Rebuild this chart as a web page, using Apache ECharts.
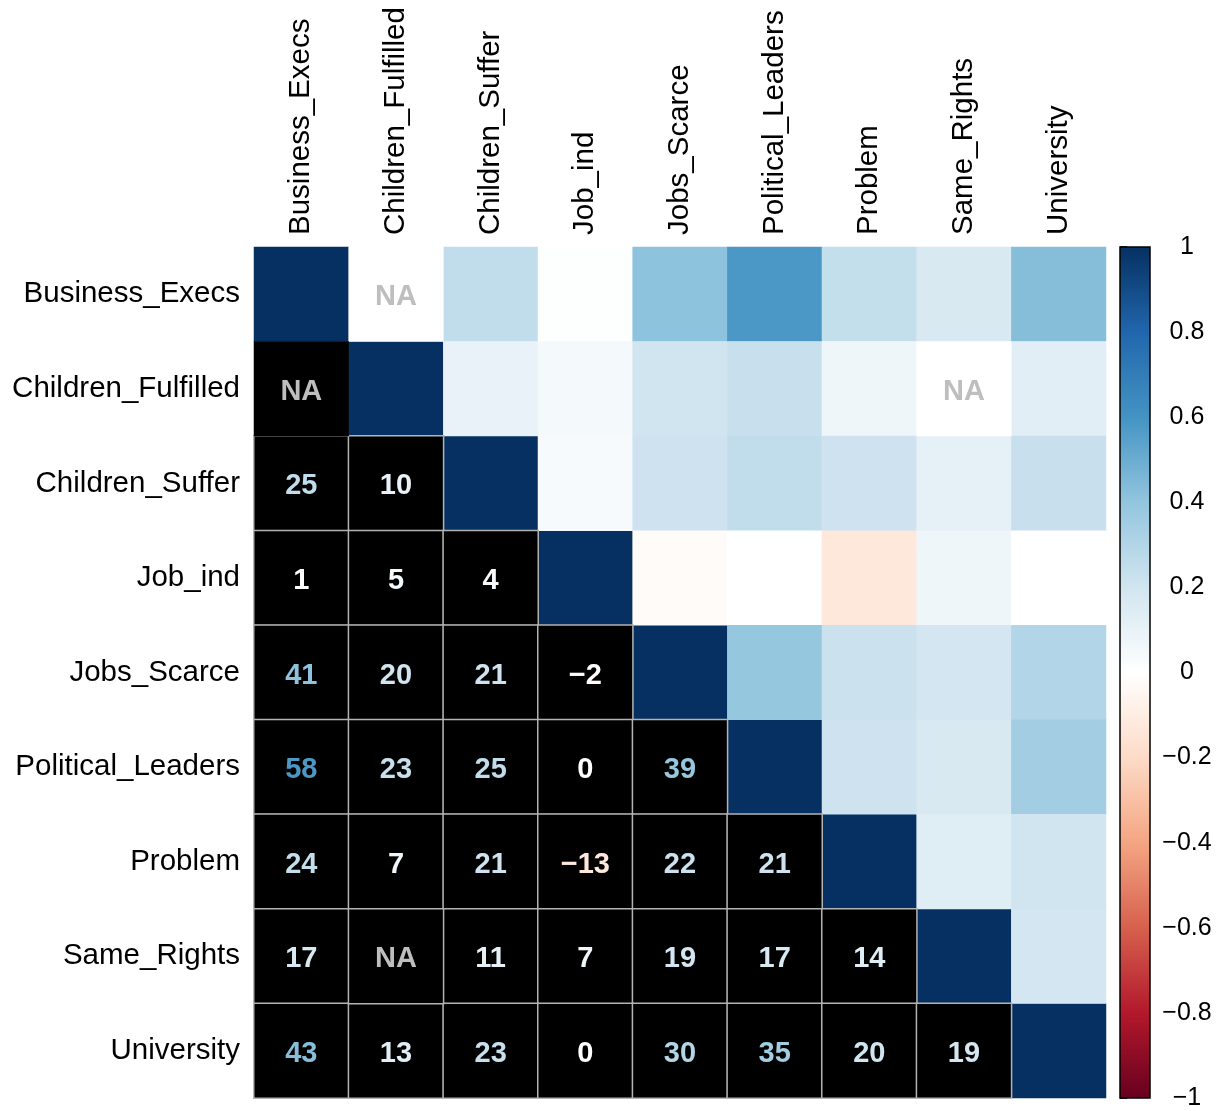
<!DOCTYPE html>
<html>
<head>
<meta charset="utf-8">
<script src="https://cdn.jsdelivr.net/npm/echarts@6/dist/echarts.min.js"></script>
<style>
  html, body { margin: 0; padding: 0; background: #fff; }
  #main { width: 1222px; height: 1111px; }
</style>
</head>
<body>
<div id="main"></div>
<script>
var vars = ['Business_Execs', 'Children_Fulfilled', 'Children_Suffer', 'Job_ind', 'Jobs_Scarce',
    'Political_Leaders', 'Problem', 'Same_Rights', 'University'];

// lower triangle, correlation x 100 (null = NA)
var corrRows = [
    [],
    [null],
    [25, 10],
    [1, 5, 4],
    [41, 20, 21, -2],
    [58, 23, 25, 0, 39],
    [24, 7, 21, -13, 22, 21],
    [17, null, 11, 7, 19, 17, 14],
    [43, 13, 23, 0, 30, 35, 20, 19]
];

// RdBu, from -1 to 1
var palette = ['#67001F', '#B2182B', '#D6604D', '#F4A582', '#FDDBC7', '#FFFFFF',
    '#D1E5F0', '#92C5DE', '#4393C3', '#2166AC', '#053061'];

var FONT = '"Liberation Sans", Arial, Helvetica, sans-serif';

function hexRgb(h) {
    return [parseInt(h.substr(1, 2), 16), parseInt(h.substr(3, 2), 16), parseInt(h.substr(5, 2), 16)];
}
function rampColor(v) {
    var t = (v + 1) / 2 * (palette.length - 1);
    var i = Math.min(Math.floor(t), palette.length - 2);
    var f = t - i;
    var a = hexRgb(palette[i]), b = hexRgb(palette[i + 1]);
    var c = [0, 1, 2].map(function (k) { return Math.round(a[k] + (b[k] - a[k]) * f); });
    return 'rgb(' + c.join(',') + ')';
}
function fmtNum(v) {
    return (v < 0 ? '\u2212' : '') + Math.abs(v);
}

var upperData = [], upperNA = [], lowerData = [], lowerNA = [];
for (var i = 0; i < vars.length; i++) {
    upperData.push([i, i, 1]);
    for (var j = 0; j < i; j++) {
        var v = corrRows[i][j];
        var bw = i >= 2 ? 1.5 : 0;
        if (v === null) {
            upperNA.push([i, j, 0]);
            lowerNA.push({ value: [j, i, 0], itemStyle: { borderWidth: bw } });
        } else {
            upperData.push([i, j, v / 100]);
            lowerData.push({
                value: [j, i, v],
                itemStyle: { borderWidth: bw },
                label: { color: rampColor(v / 100) }
            });
        }
    }
}

var cellLabel = {
    show: true,
    fontFamily: FONT,
    fontSize: 29,
    fontWeight: 'bold',
    offset: [0, 3]
};

var myChart = echarts.init(document.getElementById('main'));

var option = {
    backgroundColor: '#fff',
    animation: false,
    grid: [
        { left: 254, top: 247, width: 852, height: 851 },
        { left: 1120, top: 247, width: 30, height: 851 }
    ],
    xAxis: [{
        type: 'category',
        data: vars,
        position: 'top',
        gridIndex: 0,
        axisLine: { show: false },
        axisTick: { show: false },
        splitLine: { show: false },
        axisLabel: {
            rotate: -90,
            margin: 12,
            interval: 0,
            color: '#000',
            fontFamily: FONT,
            fontSize: 29.5
        }
    }, {
        type: 'value',
        gridIndex: 1,
        min: 0,
        max: 1,
        show: false
    }],
    yAxis: [{
        type: 'category',
        data: vars,
        inverse: true,
        gridIndex: 0,
        axisLine: { show: false },
        axisTick: { show: false },
        splitLine: { show: false },
        axisLabel: {
            margin: 14,
            interval: 0,
            color: '#000',
            fontFamily: FONT,
            fontSize: 29.5
        }
    }, {
        type: 'value',
        gridIndex: 1,
        position: 'right',
        min: -1,
        max: 1,
        interval: 0.2,
        axisLine: { show: false },
        splitLine: { show: false },
        axisTick: { show: true, length: 7, lineStyle: { color: '#000', width: 1.5 } },
        axisLabel: {
            margin: 37,
            align: 'center',
            padding: [7, 0, 0, 0],
            showMinLabel: true,
            showMaxLabel: true,
            color: '#000',
            fontFamily: FONT,
            fontSize: 25,
            formatter: function (v) {
                return fmtNum(Number(v.toFixed(1)));
            }
        }
    }],
    visualMap: {
        show: false,
        seriesIndex: 0,
        dimension: 2,
        min: -1,
        max: 1,
        inRange: { color: palette }
    },
    series: [{
        // upper triangle + diagonal
        type: 'heatmap',
        xAxisIndex: 0,
        yAxisIndex: 0,
        data: upperData,
        itemStyle: { borderWidth: 0 },
        label: { show: false }
    }, {
        type: 'heatmap',
        xAxisIndex: 0,
        yAxisIndex: 0,
        data: upperNA,
        itemStyle: { color: '#fff', borderWidth: 0 },
        label: Object.assign({}, cellLabel, { color: '#BEBEBE', formatter: 'NA' })
    }, {
        // lower triangle numbers
        type: 'heatmap',
        xAxisIndex: 0,
        yAxisIndex: 0,
        data: lowerData,
        itemStyle: { color: '#000', borderColor: '#b3b3b3' },
        label: Object.assign({}, cellLabel, {
            formatter: function (p) { return fmtNum(p.value[2]); }
        })
    }, {
        type: 'heatmap',
        xAxisIndex: 0,
        yAxisIndex: 0,
        data: lowerNA,
        itemStyle: { color: '#000', borderColor: '#b3b3b3' },
        label: Object.assign({}, cellLabel, { color: '#BEBEBE', formatter: 'NA' })
    }, {
        // colour bar
        type: 'custom',
        xAxisIndex: 1,
        yAxisIndex: 1,
        data: [[0, -1, 1, 1]],
        silent: true,
        renderItem: function (params, api) {
            var p0 = api.coord([api.value(0), api.value(3)]);
            var p1 = api.coord([api.value(2), api.value(1)]);
            var stops = palette.slice().reverse().map(function (c, k) {
                return { offset: k / (palette.length - 1), color: c };
            });
            return {
                type: 'rect',
                shape: { x: p0[0], y: p0[1], width: p1[0] - p0[0], height: p1[1] - p0[1] },
                style: {
                    fill: new echarts.graphic.LinearGradient(0, 0, 0, 1, stops),
                    stroke: '#000',
                    lineWidth: 1.5
                }
            };
        }
    }]
};

myChart.setOption(option);
</script>
</body>
</html>
